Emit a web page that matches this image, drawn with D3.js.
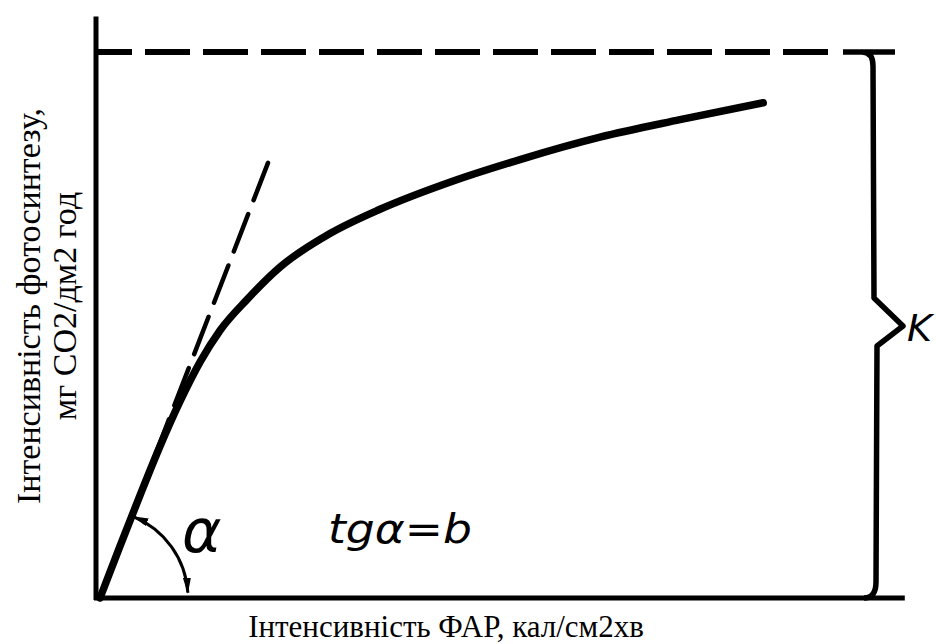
<!DOCTYPE html>
<html>
<head>
<meta charset="utf-8">
<script src="https://cdn.jsdelivr.net/npm/d3@7"></script>
<style>
  body { margin: 0; background: #fff; }
  svg { display: block; }
</style>
</head>
<body>
<div class="chart"></div>
<script>
// curve of photosynthesis vs light (arbitrary units)
const lightX = [0, 0.25, 0.5, 0.75, 1.0, 1.25, 1.5, 1.84, 2.25, 2.88, 3.5, 4.38, 5.25, 6.25, 7.25, 8.29];
const photoY = [0, 0.95, 1.88, 2.78, 3.6, 4.32, 4.9, 5.47, 6.06, 6.68, 7.12, 7.62, 8.03, 8.44, 8.76, 9.07];
// initial slope line (tg a = b)
const tangentX = [0, 2.1];
const tangentY = [0, 7.97];
// saturation level K
const kLevel = 10;
const kBraceX = 9.65;

const width = 936, height = 644;

const x = d3.scaleLinear().domain([0, 10]).range([100, 900]);
const y = d3.scaleLinear().domain([0, 10]).range([598, 52]);

const svg = d3.select(".chart").append("svg")
    .attr("width", width)
    .attr("height", height)
    .style("background", "#fff");

const defs = svg.append("defs");
defs.append("marker")
    .attr("id", "arr")
    .attr("viewBox", "0 0 16 8")
    .attr("refX", 15).attr("refY", 4)
    .attr("markerWidth", 16).attr("markerHeight", 8)
    .attr("markerUnits", "userSpaceOnUse")
    .attr("orient", "auto-start-reverse")
    .append("path")
    .attr("d", "M0,0L16,4L0,8Z")
    .attr("fill", "#000");

// axes (no ticks, just the lines)
svg.append("line")
    .attr("x1", x(0) - 4).attr("x2", x(0) - 4)
    .attr("y1", y(0) + 2).attr("y2", y(10.65))
    .attr("stroke", "#000").attr("stroke-width", 5);
svg.append("line")
    .attr("x1", x(0) - 6).attr("x2", x(10.06))
    .attr("y1", y(0)).attr("y2", y(0))
    .attr("stroke", "#000").attr("stroke-width", 5);

// dashed saturation line
svg.append("line")
    .attr("x1", x(0) - 4).attr("x2", x(9.16))
    .attr("y1", y(kLevel)).attr("y2", y(kLevel))
    .attr("stroke", "#000").attr("stroke-width", 6)
    .attr("stroke-dasharray", "45 13")
    .attr("stroke-dashoffset", 9);

// dashed tangent, drawn from the top so a dash ends there
svg.append("line")
    .attr("x1", x(tangentX[1])).attr("y1", y(tangentY[1]))
    .attr("x2", x(tangentX[0])).attr("y2", y(tangentY[0]))
    .attr("stroke", "#000").attr("stroke-width", 4.5)
    .attr("stroke-linecap", "round")
    .attr("stroke-dasharray", "40 15");

// main curve
const pts = lightX.map((d, i) => [d, photoY[i]]);
svg.append("path")
    .datum(pts)
    .attr("d", d3.line().x(d => x(d[0])).y(d => y(d[1])).curve(d3.curveMonotoneX))
    .attr("fill", "none")
    .attr("stroke", "#000")
    .attr("stroke-width", 7.5)
    .attr("stroke-linecap", "round");

// angle arc with two arrowheads
const ang = Math.atan2(y(0) - y(tangentY[1]), x(tangentX[1]) - x(0));
const arc = d3.path();
arc.arc(x(0), y(0), 88, -ang + 0.02, -0.06, false);
svg.append("path")
    .attr("d", arc.toString())
    .attr("fill", "none")
    .attr("stroke", "#000")
    .attr("stroke-width", 3)
    .attr("marker-start", "url(#arr)")
    .attr("marker-end", "url(#arr)");

// brace for K
const bx = x(kBraceX), yt = y(kLevel), yb = y(0), ym = y(kLevel / 2);
const brace = d3.path();
brace.moveTo(bx - 29, yt); brace.lineTo(bx + 23, yt);
brace.moveTo(bx - 10, yt);
brace.quadraticCurveTo(bx + 1, yt, bx + 1, yt + 14);
brace.lineTo(bx + 2, ym - 27);
brace.lineTo(bx + 31, ym + 1);
brace.lineTo(bx + 5, ym + 21);
brace.lineTo(bx + 4, yb - 16);
brace.quadraticCurveTo(bx + 4, yb, bx - 8, yb);
svg.append("path")
    .attr("d", brace.toString())
    .attr("fill", "none")
    .attr("stroke", "#000")
    .attr("stroke-width", 5.5)
    .attr("stroke-linejoin", "round");

// hand lettering
const hand = "DejaVu Sans";
svg.append("text")
    .attr("x", 182).attr("y", 552)
    .attr("font-family", hand).attr("font-style", "italic")
    .attr("font-size", 60)
    .text("α");
svg.append("text")
    .attr("x", 328).attr("y", 543)
    .attr("font-family", hand).attr("font-style", "italic")
    .attr("font-size", 40)
    .attr("textLength", 144)
    .attr("lengthAdjust", "spacingAndGlyphs")
    .text("tgα=b");
svg.append("text")
    .attr("x", 907).attr("y", 341)
    .attr("font-family", hand).attr("font-style", "italic")
    .attr("font-size", 38)
    .text("K");

// axis titles
const serif = "Liberation Serif";
svg.append("text")
    .attr("x", 446).attr("y", 637)
    .attr("text-anchor", "middle")
    .attr("font-family", serif)
    .attr("font-size", 31)
    .text("Інтенсивність ФАР, кал/см2хв");

const yl = svg.append("g").attr("transform", "translate(0,306) rotate(-90)");
yl.append("text")
    .attr("x", 0).attr("y", 40)
    .attr("text-anchor", "middle")
    .attr("font-family", serif)
    .attr("font-size", 34)
    .text("Інтенсивність фотосинтезу,");
yl.append("text")
    .attr("x", 0).attr("y", 76)
    .attr("text-anchor", "middle")
    .attr("font-family", serif)
    .attr("font-size", 34)
    .text("мг СО2/дм2 год");
</script>
</body>
</html>
